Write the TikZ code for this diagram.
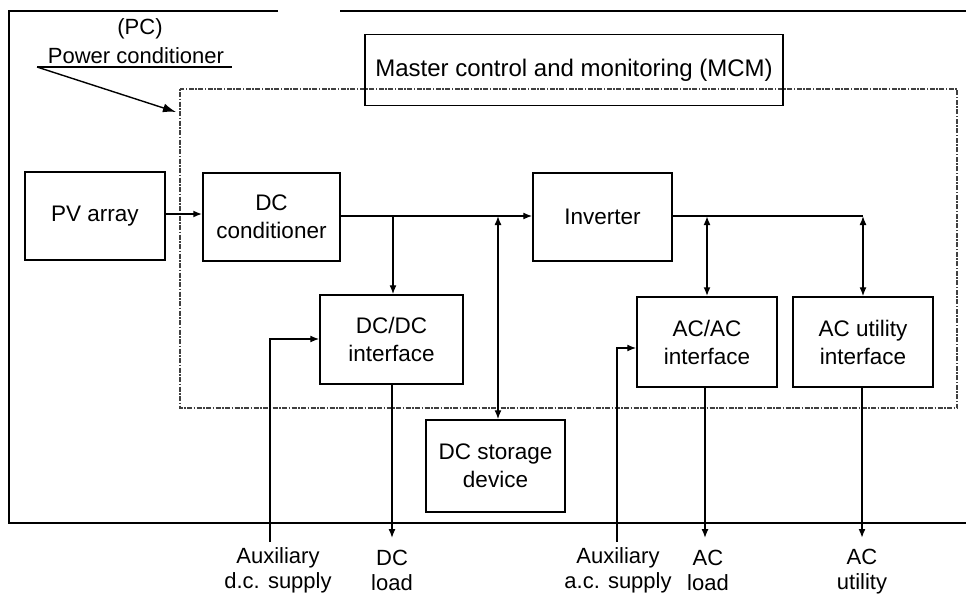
\documentclass[tikz,border=0pt]{standalone}
\usepackage{fontspec}
\setmainfont{Liberation Sans}
\usetikzlibrary{arrows.meta}
\tikzset{
  box/.style={draw, line width=1.5pt, inner sep=0pt, align=center, font=\fontsize{22.5}{28}\selectfont},
  conn/.style={line width=1.4pt},
  thickconn/.style={line width=2.6pt},
  tip/.style={-{Latex[length=9pt,width=7pt]}},
  dtip/.style={{Latex[length=9pt,width=7pt]}-{Latex[length=9pt,width=7pt]}},
  lbl/.style={align=center, inner sep=0pt, font=\fontsize{22}{25}\selectfont},
  pcbox/.style={draw=black!75, line width=1.1pt, dash pattern=on 1.5pt off 1.5pt on 5pt off 1.5pt}
}
\begin{document}
\begin{tikzpicture}[x=1pt,y=-1pt]
\fill[white] (0,0) rectangle (966,598);
\useasboundingbox (0,0) rectangle (966,598);
% outer frame
\draw[line width=1.4pt] (278,11) -- (9,11) -- (9,523) -- (966,523);
\draw[line width=1.4pt] (340,11) -- (966,11);
% PC dotted box
\draw[pcbox] (180,89) rectangle (957,408);
% labels top left
\node[lbl] (pc) at (140,29) {(PC)};
\node[lbl] (pcn) at (136,56) {Power conditioner};
\coordinate (ul1) at (37,67);
\coordinate (ul2) at (232,67);
\coordinate (pcc) at (176,112);
\draw[line width=1.2pt] (ul1) -- (ul2);
\draw[line width=1.4pt, -{Latex[length=13pt,width=9pt]}] (ul1) -- (pcc);
% MCM
\node[box, minimum width=418pt, minimum height=71pt, font=\fontsize{24}{28}\selectfont] (mcm) at (574,70) {Master control and monitoring (MCM)};
% boxes
\node[box, minimum width=140pt, minimum height=88pt] (pv) at (95,216) {PV array};
\node[box, minimum width=137pt, minimum height=88pt] (dcc) at (271.5,217) {DC\\conditioner};
\node[box, minimum width=139pt, minimum height=88pt] (inv) at (602.5,217) {Inverter};
\node[box, minimum width=143pt, minimum height=89pt] (dcdc) at (391.5,339.5) {DC/DC\\interface};
\node[box, minimum width=139pt, minimum height=92pt] (stor) at (495.5,466) {DC storage\\device};
\node[box, minimum width=140pt, minimum height=90pt] (acac) at (707,342) {AC/AC\\interface};
\node[box, minimum width=140pt, minimum height=90pt] (acu) at (863,342) {AC utility\\interface};
% bottom labels
\node[lbl] (auxdc) at (278,570) {Auxiliary\\d.c. supply};
\node[lbl] (dcload) at (392,570) {DC\\load};
\node[lbl] (auxac) at (618,570) {Auxiliary\\a.c. supply};
\node[lbl] (acload) at (708,570) {AC\\load};
\node[lbl] (acut) at (862,572) {AC\\utility};
% connectors
\draw[thickconn, tip] (pv.east |- 0,214) -- (dcc.west |- 0,214);
\draw[conn, tip] (dcc.east |- 0,216) -- (inv.west |- 0,216);
\coordinate (j1) at (393,216);
\coordinate (j2) at (498,216);
\draw[conn, tip] (j1) -- (j1 |- dcdc.north);
\draw[conn, dtip] (j2) -- (j2 |- stor.north);
\coordinate (j3) at (707,216);
\coordinate (j4) at (863,216);
\draw[thickconn] (inv.east |- 0,216) -- (j3);
\draw[conn] (j3) -- (j4);
\draw[thickconn, dtip] (j3) -- (j3 |- acac.north);
\draw[conn, dtip] (j4) -- (j4 |- acu.north);
% auxiliary dc
\coordinate (adc0) at (270,542);
\coordinate (adc1) at (270,339);
\draw[conn, tip] (adc0) -- (adc1) -- (adc1 -| dcdc.west);
\draw[conn, tip] (392,384) -- (392,538);
% auxiliary ac
\coordinate (aac0) at (617,542);
\coordinate (aac1) at (617,348);
\draw[conn, tip] (aac0) -- (aac1) -- (aac1 -| acac.west);
\draw[conn, tip] (705,387) -- (705,538);
\draw[thickconn, tip] (862,387) -- (862,538);
\end{tikzpicture}
\end{document}
